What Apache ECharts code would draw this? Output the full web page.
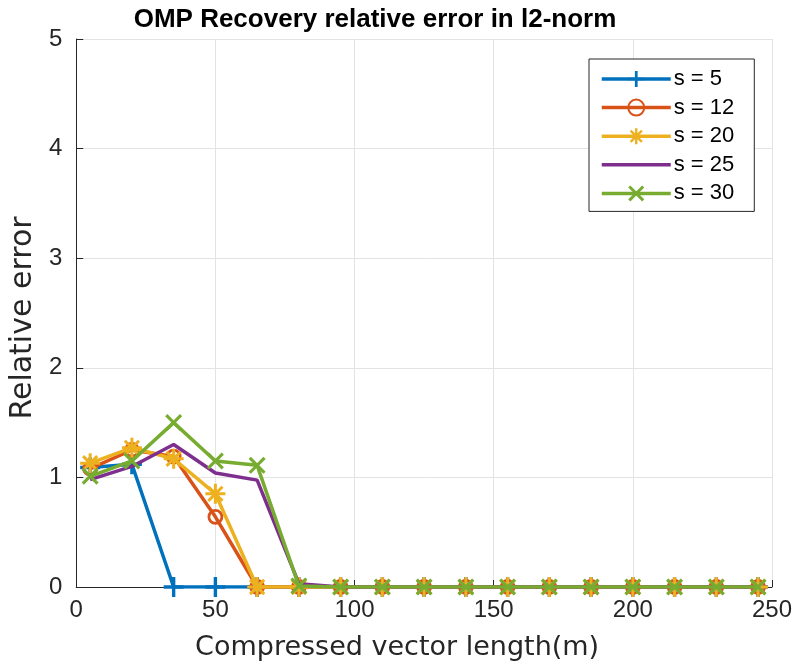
<!DOCTYPE html>
<html>
<head>
<meta charset="utf-8">
<script src="https://cdn.jsdelivr.net/npm/echarts@6/dist/echarts.min.js"></script>
<style>
  html, body { margin: 0; padding: 0; background: #ffffff; }
  #chart { width: 795px; height: 668px; }
</style>
</head>
<body>
<div id="chart"></div>
<script>
// Compressed vector lengths (m)
const lengths = [5, 20, 35, 50, 65, 80, 95, 110, 125, 140, 155, 170, 185, 200, 215, 230, 245];

// Relative l2 error for each sparsity level s
const errS5  = [1.09, 1.12, 0, 0, 0, 0, 0, 0, 0, 0, 0, 0, 0, 0, 0, 0, 0];
const errS12 = [1.08, 1.25, 1.19, 0.64, 0, 0, 0, 0, 0, 0, 0, 0, 0, 0, 0, 0, 0];
const errS20 = [1.13, 1.27, 1.17, 0.85, 0, 0, 0, 0, 0, 0, 0, 0, 0, 0, 0, 0, 0];
const errS25 = [0.98, 1.10, 1.30, 1.04, 0.975, 0.03, 0, 0, 0, 0, 0, 0, 0, 0, 0, 0, 0];
const errS30 = [1.01, 1.15, 1.50, 1.15, 1.11, 0.01, 0, 0, 0, 0, 0, 0, 0, 0, 0, 0, 0];

const seriesNames = ['s = 5', 's = 12', 's = 20', 's = 25', 's = 30'];
const xTicks = [0, 50, 100, 150, 200, 250];
const yTicks = [0, 1, 2, 3, 4, 5];

const colors = ['#0072BD', '#D95319', '#EDB120', '#7E2F8E', '#77AC30'];
const FONT = 'Liberation Sans, Arial, Helvetica, sans-serif';
const NAME_FONT = 'DejaVu Sans, Verdana, sans-serif';
const TEXT = '#262626';
const LINE_W = 3.5;

// Build a filled marker made of thin bars ("spokes") at the given angles
function spokes(anglesDeg, L, t) {
  let d = '';
  anglesDeg.forEach(function (deg) {
    const a = deg * Math.PI / 180;
    const dx = Math.cos(a), dy = Math.sin(a);
    const nx = -dy, ny = dx;
    const p = [
      [L * dx + t * nx, L * dy + t * ny],
      [L * dx - t * nx, L * dy - t * ny],
      [-L * dx - t * nx, -L * dy - t * ny],
      [-L * dx + t * nx, -L * dy + t * ny]
    ].map(function (q) { return q[0].toFixed(3) + ',' + q[1].toFixed(3); });
    d += 'M' + p[0] + 'L' + p[1] + 'L' + p[2] + 'L' + p[3] + 'Z';
  });
  return 'path://' + d;
}

const plusSymbol = spokes([0, 90], 10, 1.7);
const crossSymbol = spokes([45, 135], 10, 1.5);
const starSymbol = spokes([0, 45, 90, 135], 10, 1.5);

function pairs(vals) {
  return lengths.map(function (m, i) { return [m, vals[i]]; });
}

const markerSpecs = [
  { symbol: plusSymbol, symbolSize: 20 },
  { symbol: 'circle', symbolSize: 13 },
  { symbol: starSymbol, symbolSize: 20 },
  { symbol: 'none', symbolSize: 0 },
  { symbol: crossSymbol, symbolSize: 17 }
];
const seriesValues = [errS5, errS12, errS20, errS25, errS30];

const series = seriesValues.map(function (vals, i) {
  const spec = markerSpecs[i];
  const isRing = spec.symbol === 'circle';
  return {
    name: seriesNames[i],
    type: 'line',
    data: pairs(vals),
    symbol: spec.symbol,
    symbolSize: spec.symbolSize,
    showSymbol: spec.symbol !== 'none',
    lineStyle: { color: colors[i], width: LINE_W },
    itemStyle: isRing
      ? { color: 'rgba(0,0,0,0)', borderColor: colors[i], borderWidth: 2.8 }
      : { color: colors[i], borderWidth: 0 },
    emphasis: { disabled: true },
    animation: false,
    z: 2 + i
  };
});

// Legend entries; the s = 25 line carries no marker
const legendData = seriesNames.map(function (name, i) {
  if (markerSpecs[i].symbol === 'none') {
    return { name: name, itemStyle: { color: 'rgba(0,0,0,0)', borderColor: 'rgba(0,0,0,0)', opacity: 0 } };
  }
  return { name: name };
});

const chart = echarts.init(document.getElementById('chart'), null, { renderer: 'canvas' });
chart.setOption({
  animation: false,
  backgroundColor: '#ffffff',
  color: colors,
  title: {
    text: 'OMP Recovery relative error in l2-norm',
    left: 370, top: 2, textAlign: 'center',
    textStyle: { fontFamily: FONT, fontSize: 26, fontWeight: 'bold', color: '#000000' }
  },
  grid: { left: 75, right: 19, top: 39, bottom: 81, containLabel: false },
  legend: {
    data: legendData,
    orient: 'vertical',
    left: 589, top: 59,
    itemWidth: 69, itemHeight: 20, itemGap: 6.6,
    padding: [9, 20, 7, 11],
    borderColor: TEXT, borderWidth: 1,
    backgroundColor: '#ffffff',
    selectedMode: false,
    lineStyle: { width: LINE_W },
    textStyle: { fontFamily: FONT, fontSize: 22, color: '#000000', padding: [0, 0, 0, -2] }
  },
  xAxis: {
    type: 'value', min: xTicks[0], max: xTicks[xTicks.length - 1], interval: 50,
    name: 'Compressed vector length(m)', nameLocation: 'middle', nameGap: 47,
    nameTextStyle: { fontFamily: NAME_FONT, fontSize: 27, color: TEXT, padding: [0, 54, 0, 0] },
    axisLine: { show: true, onZero: false, lineStyle: { color: TEXT, width: 1 } },
    axisTick: { show: true, inside: true, length: 7, lineStyle: { color: TEXT } },
    axisLabel: { fontFamily: FONT, fontSize: 24, color: TEXT, margin: 11 },
    splitLine: { show: true, lineStyle: { color: '#e3e3e3', width: 1 } }
  },
  yAxis: {
    type: 'value', min: yTicks[0], max: yTicks[yTicks.length - 1], interval: 1,
    name: 'Relative error', nameLocation: 'middle', nameGap: 38,
    nameTextStyle: { fontFamily: NAME_FONT, fontSize: 30, color: TEXT, padding: [0, 10, 0, 0] },
    axisLine: { show: true, lineStyle: { color: TEXT, width: 1 } },
    axisTick: { show: true, inside: true, length: 7, lineStyle: { color: TEXT } },
    axisLabel: { fontFamily: FONT, fontSize: 24, color: TEXT, margin: 14 },
    splitLine: { show: true, lineStyle: { color: '#e3e3e3', width: 1 } }
  },
  series: series
});
</script>
</body>
</html>
